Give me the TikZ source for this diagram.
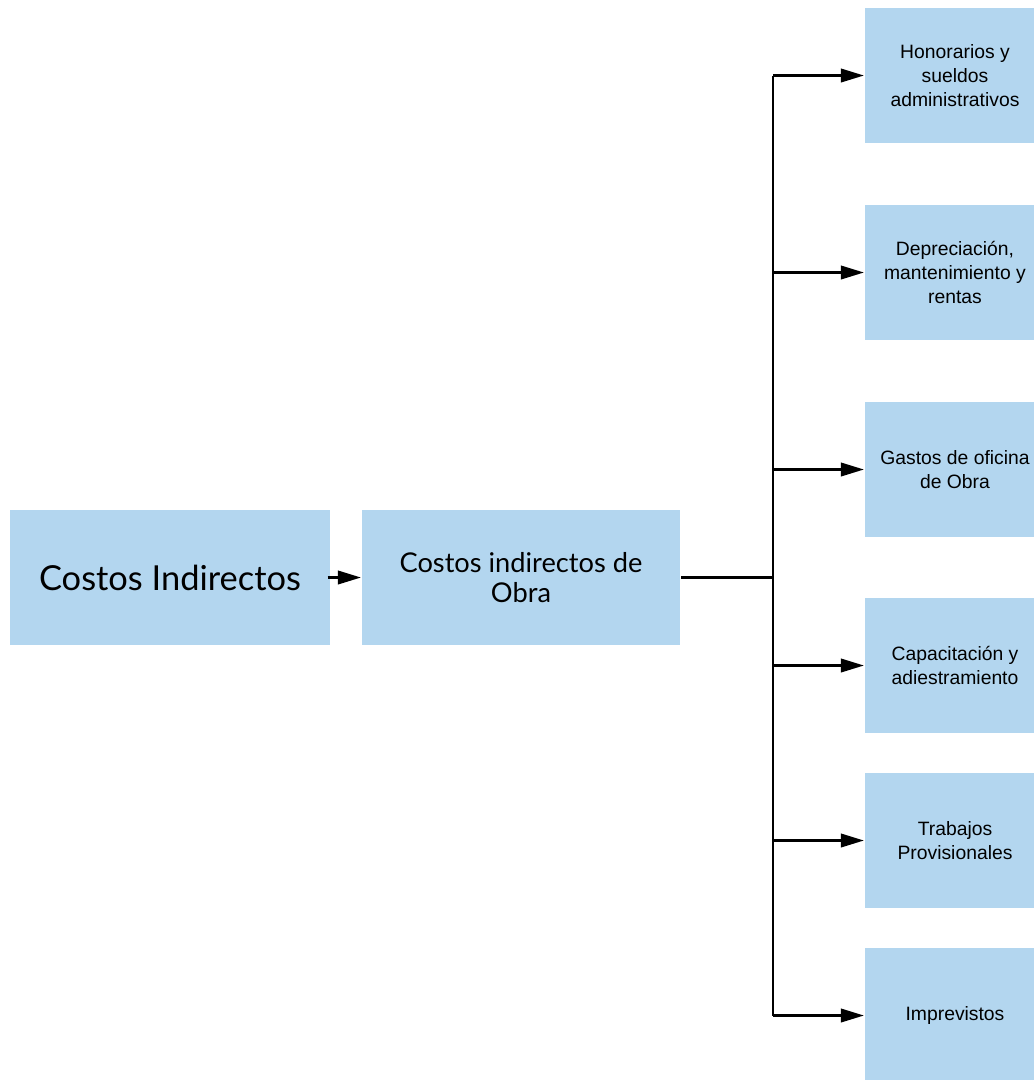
\documentclass[tikz,border=0pt]{standalone}
\usepackage{fontspec}
\setmainfont{Liberation Sans}
\newfontfamily\bigfont{Lato}
\usetikzlibrary{arrows.meta}
\definecolor{cajaazul}{RGB}{179,214,239}
\tikzset{
  caja/.style={fill=cajaazul, draw=none, align=center, inner sep=0pt},
  cajagrande/.style={caja, minimum width=6.4cm, minimum height=2.7cm, font=\bigfont\fontsize{19.6}{24}\selectfont},
  cajamedia/.style={caja, minimum width=6.36cm, minimum height=2.7cm, font=\bigfont\fontsize{15.5}{17.5}\selectfont},
  cajachica/.style={caja, minimum width=3.6cm, minimum height=2.7cm, font=\fontsize{11}{13.6}\selectfont},
  flecha/.style={-{Triangle[length=4.6mm, width=2.7mm]}},
}
\begin{document}
\begin{tikzpicture}[x=0.02cm, y=-0.02cm, line width=1.3pt, line join=round]
	\useasboundingbox (0,0) rectangle (1034,1080);
	\node[cajagrande] (CI) at (170,577.5) {Costos Indirectos};
	\node[cajamedia] (CO) at (521,577.5) {Costos indirectos de\\Obra};
	\coordinate (J) at (773,577.5);
	% ramas
	\node[cajachica] (r1) at (955,75.5) {Honorarios y\\sueldos\\administrativos};
	\node[cajachica] (r2) at (955,272.5) {Depreciación,\\mantenimiento y\\rentas};
	\node[cajachica] (r3) at (955,469.5) {Gastos de oficina\\de Obra};
	\node[cajachica] (r4) at (955,665.5) {Capacitación y\\adiestramiento};
	\node[cajachica] (r5) at (955,840.5) {Trabajos\\Provisionales};
	\node[cajachica] (r6) at (955,1015.5) {Imprevistos};
	\draw[flecha] ([xshift=-2pt]CI.east) -- (CO.west);
	\draw (CO.east) -- (J);
	\draw (J |- r1.west) -- (J |- r6.west);
	\foreach \r in {r1,r2,r3,r4,r5,r6} \draw[flecha] (J |- \r.west) -- (\r.west);
\end{tikzpicture}
\end{document}
